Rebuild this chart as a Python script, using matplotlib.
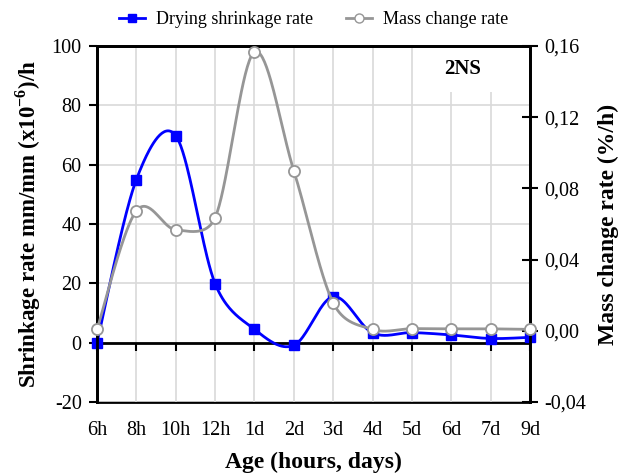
import numpy as np
import matplotlib
matplotlib.use("Agg")
import matplotlib.pyplot as plt
from matplotlib.lines import Line2D

categories = ["6h", "8h", "10h", "12h", "1d", "2d", "3d", "4d", "5d", "6d", "7d", "9d"]
shrinkage = [0.0, 55.0, 69.8, 19.9, 4.5, -0.9, 15.5, 3.3, 3.4, 2.6, 1.4, 1.8]
mass_change = [0.0008, 0.0674, 0.0567, 0.0635, 0.1566, 0.0899, 0.0157, 0.0008, 0.0012, 0.0011, 0.0011, 0.0008]
left_ticks = [-20, 0, 20, 40, 60, 80, 100]
left_labels = ["-20", "0", "20", "40", "60", "80", "100"]
right_ticks = [-0.04, 0.0, 0.04, 0.08, 0.12, 0.16]
right_labels = ["-0,04", "0,00", "0,04", "0,08", "0,12", "0,16"]

plt.rcParams['font.family'] = ['Liberation Serif', 'DejaVu Serif']
plt.rcParams['mathtext.fontset'] = 'custom'
plt.rcParams['mathtext.rm'] = 'Liberation Serif'
plt.rcParams['mathtext.bf'] = 'Liberation Serif:bold'


def smooth(yvals, xscale, yscale, n=40):
    """Excel-like smoothed line (Catmull-Rom Bezier with limited handles), in screen scale."""
    y = np.asarray(yvals, float) * yscale
    x = np.arange(len(y), dtype=float) * xscale
    P = np.column_stack([x, y])
    m = len(P)
    out = []
    for i in range(m - 1):
        p0 = P[i - 1] if i > 0 else P[i]
        p1 = P[i]
        p2 = P[i + 1]
        p3 = P[i + 2] if i + 2 < m else P[i + 1]
        d12 = np.hypot(*(p2 - p1))
        h1 = (p2 - p0) / 6.0
        h2 = (p3 - p1) / 6.0
        l1 = np.hypot(*h1)
        l2 = np.hypot(*h2)
        if l1 > d12 / 2:
            h1 = h1 * (d12 / 2) / l1
        if l2 > d12 / 2:
            h2 = h2 * (d12 / 2) / l2
        c1 = p1 + h1
        c2 = p2 - h2
        t = np.linspace(0, 1, n)[:, None]
        seg = ((1 - t) ** 3) * p1 + 3 * ((1 - t) ** 2) * t * c1 + 3 * (1 - t) * t ** 2 * c2 + t ** 3 * p2
        out.append(seg if i == 0 else seg[1:])
    s = np.vstack(out)
    return s[:, 0] / xscale, s[:, 1] / yscale


fig = plt.figure(figsize=(6.27, 4.76), dpi=100)
ax = fig.add_axes([97 / 627, 1 - 402 / 476, (530 - 97) / 627, (402 - 46) / 476])
ax2 = ax.twinx()

xs = np.arange(len(categories))
blue = "#0000FF"
gray = "#969696"

px_per_cat = (530 - 97) / (len(categories) - 1)
sx, sy = smooth(shrinkage, px_per_cat, 356 / 120)
ax.plot(sx, sy, color=blue, lw=2, zorder=3)
ax.plot(xs, shrinkage, ls='none', marker='s', ms=7, color=blue, zorder=4, clip_on=False)

mx, my = smooth(mass_change, px_per_cat, 356 / 0.2)
ax2.plot(mx, my, color=gray, lw=2, zorder=3)
ax2.plot(xs, mass_change, ls='none', marker='o', ms=8, mfc='white', mec=gray, mew=1.3,
         zorder=4, clip_on=False)

ax.set_xlim(0, len(categories) - 1)
ax.set_ylim(-20, 100)
ax2.set_ylim(-0.04, 0.16)

ax.set_yticks(left_ticks)
ax.set_yticklabels(left_labels, fontsize=14.5)
ax2.set_yticks(right_ticks)
ax2.set_yticklabels(right_labels, fontsize=14.5)

ax.set_xticks(xs)
ax.grid(True, color="#d9d9d9", lw=1.2, zorder=0)
ax.set_axisbelow(True)

# zero line with category ticks
ax.spines['bottom'].set_position(('data', 0))
ax.spines['bottom'].set_linewidth(2)
ax.tick_params(axis='x', direction='out', length=6, width=1.5, labelbottom=False)
sec = ax.secondary_xaxis('bottom')
sec.set_xticks(xs)
sec.set_xticklabels(categories, fontsize=14.5)
sec.tick_params(length=0, pad=14)
sec.spines['bottom'].set_linewidth(2)

for a in (ax, ax2):
    for s in ['top', 'left', 'right']:
        a.spines[s].set_linewidth(2)
ax2.spines['bottom'].set_visible(False)
ax.tick_params(axis='y', direction='out', length=6, width=1.5, pad=5)
ax2.tick_params(axis='y', direction='inout', length=11, width=1.5, pad=5)

ax.set_ylabel(r"Shrinkage rate mm/mm (x10$^{\mathbf{-6}}$)/h", fontsize=16.5, fontweight='bold', labelpad=6)
ax2.set_ylabel("Mass change rate (%/h)", fontsize=17, fontweight='bold', labelpad=8)
sec.set_xlabel("Age (hours, days)", fontsize=17, fontweight='bold', labelpad=8)

ax.text(0.845, 0.935, "2NS", transform=ax.transAxes, fontsize=15, fontweight='bold',
        ha='center', va='center', zorder=2,
        bbox=dict(facecolor='white', edgecolor='none', pad=9))

handles = [Line2D([], [], color=blue, lw=2, marker='s', ms=6),
           Line2D([], [], color=gray, lw=2, marker='o', ms=6.5, mfc='white', mec=gray)]
fig.legend(handles, ["Drying shrinkage rate", "Mass change rate"], loc='center',
           bbox_to_anchor=(0.5, 0.958), ncol=2, frameon=False, fontsize=13,
           handlelength=1.45, columnspacing=1.8, handletextpad=0.6)

fig.savefig("out.png", dpi=100)
